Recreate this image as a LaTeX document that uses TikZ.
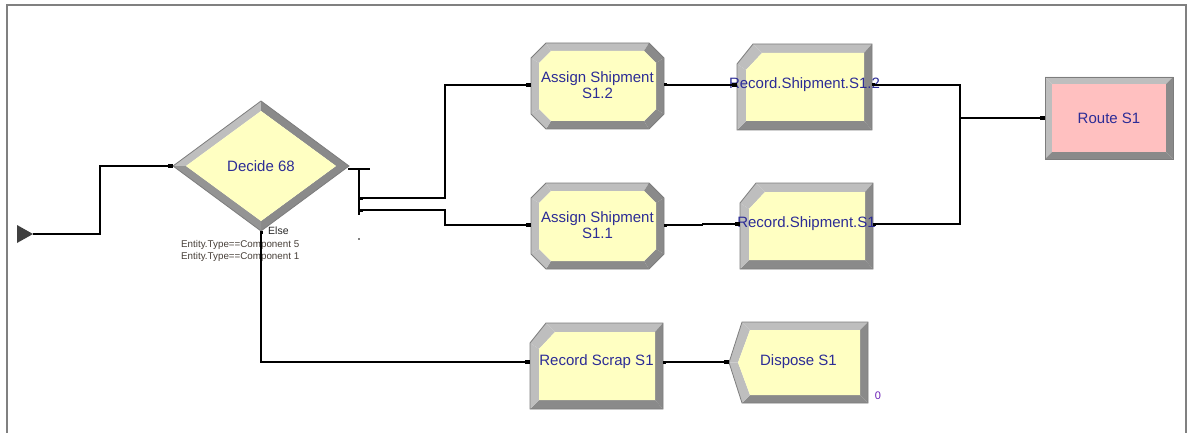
\documentclass[tikz,border=0pt]{standalone}
\usepackage{fontspec}
\setmainfont{Liberation Sans}
\usetikzlibrary{arrows.meta,shapes.geometric}
\definecolor{bevL}{RGB}{190,190,190}
\definecolor{bevD}{RGB}{138,138,138}
\definecolor{outl}{RGB}{125,125,125}
\definecolor{modY}{RGB}{255,255,194}
\definecolor{modP}{RGB}{255,192,192}
\definecolor{navy}{RGB}{44,44,150}
\definecolor{lblc}{RGB}{70,62,55}
\definecolor{framec}{RGB}{128,128,128}
\newcommand\trap[5]{\fill[#5] (#1)--(#2)--(#3)--(#4)--cycle;}
% octagon module (Assign)
\newcommand\octmod[4]{%
 \coordinate (o1) at (#1+15,#2); \coordinate (o2) at (#3-15,#2);
 \coordinate (o3) at (#3,#2+15); \coordinate (o4) at (#3,#4-15);
 \coordinate (o5) at (#3-15,#4); \coordinate (o6) at (#1+15,#4);
 \coordinate (o7) at (#1,#4-15); \coordinate (o8) at (#1,#2+15);
 \coordinate (i1) at (#1+20,#2+8); \coordinate (i2) at (#3-20,#2+8);
 \coordinate (i3) at (#3-8,#2+20); \coordinate (i4) at (#3-8,#4-20);
 \coordinate (i5) at (#3-20,#4-8); \coordinate (i6) at (#1+20,#4-8);
 \coordinate (i7) at (#1+8,#4-20); \coordinate (i8) at (#1+8,#2+20);
 \trap{o8}{o1}{i1}{i8}{bevL}\trap{o1}{o2}{i2}{i1}{bevL}
 \trap{o2}{o3}{i3}{i2}{bevD}\trap{o3}{o4}{i4}{i3}{bevD}
 \trap{o4}{o5}{i5}{i4}{bevD}\trap{o5}{o6}{i6}{i5}{bevD}
 \trap{o6}{o7}{i7}{i6}{bevL}\trap{o7}{o8}{i8}{i7}{bevL}
 \fill[modY] (i1)--(i2)--(i3)--(i4)--(i5)--(i6)--(i7)--(i8)--cycle;
 \draw[outl,line width=0.8pt] (o1)--(o2)--(o3)--(o4)--(o5)--(o6)--(o7)--(o8)--cycle;}
% chamfered module (Record)
\newcommand\recmod[4]{%
 \coordinate (o1) at (#1+16,#2); \coordinate (o2) at (#3,#2);
 \coordinate (o3) at (#3,#4); \coordinate (o4) at (#1,#4);
 \coordinate (o5) at (#1,#2+20);
 \coordinate (i1) at (#1+25,#2+9); \coordinate (i2) at (#3-8,#2+9);
 \coordinate (i3) at (#3-8,#4-9); \coordinate (i4) at (#1+9,#4-9);
 \coordinate (i5) at (#1+9,#2+26);
 \trap{o5}{o1}{i1}{i5}{bevL}\trap{o1}{o2}{i2}{i1}{bevL}
 \trap{o2}{o3}{i3}{i2}{bevD}\trap{o3}{o4}{i4}{i3}{bevD}
 \trap{o4}{o5}{i5}{i4}{bevL}
 \fill[modY] (i1)--(i2)--(i3)--(i4)--(i5)--cycle;
 \draw[outl,line width=0.8pt] (o1)--(o2)--(o3)--(o4)--(o5)--cycle;}
% dispose module
\newcommand\dismod[4]{%
 \coordinate (o1) at (#1+13,#2); \coordinate (o2) at (#3,#2);
 \coordinate (o3) at (#3,#4); \coordinate (o4) at (#1+13,#4);
 \coordinate (o5) at (#1,{(#2+#4)/2});
 \coordinate (i1) at (#1+21,#2+8); \coordinate (i2) at (#3-8,#2+8);
 \coordinate (i3) at (#3-8,#4-8); \coordinate (i4) at (#1+21,#4-8);
 \coordinate (i5) at (#1+9,{(#2+#4)/2});
 \trap{o5}{o1}{i1}{i5}{bevL}\trap{o1}{o2}{i2}{i1}{bevL}
 \trap{o2}{o3}{i3}{i2}{bevD}\trap{o3}{o4}{i4}{i3}{bevD}
 \trap{o4}{o5}{i5}{i4}{bevL}
 \fill[modY] (i1)--(i2)--(i3)--(i4)--(i5)--cycle;
 \draw[outl,line width=0.8pt] (o1)--(o2)--(o3)--(o4)--(o5)--cycle;}
% rectangle module
\newcommand\rectmod[5]{%
 \coordinate (o1) at (#1,#2); \coordinate (o2) at (#3,#2);
 \coordinate (o3) at (#3,#4); \coordinate (o4) at (#1,#4);
 \coordinate (i1) at (#1+7,#2+7); \coordinate (i2) at (#3-7,#2+7);
 \coordinate (i3) at (#3-7,#4-7); \coordinate (i4) at (#1+7,#4-7);
 \trap{o4}{o1}{i1}{i4}{bevL}\trap{o1}{o2}{i2}{i1}{bevL}
 \trap{o2}{o3}{i3}{i2}{bevD}\trap{o3}{o4}{i4}{i3}{bevD}
 \fill[#5] (i1)--(i2)--(i3)--(i4)--cycle;
 \draw[outl,line width=0.8pt] (o1)--(o2)--(o3)--(o4)--cycle;}
\tikzset{
 mod/.style={inner sep=0pt, align=center, text=navy, font=\fontsize{15}{16}\selectfont},
 small/.style={inner sep=0pt, anchor=west, text=lblc, font=\fontsize{9.8}{11}\selectfont},
 wire/.style={draw=black, line width=1.1pt},
 conn/.style={wire, {Square[length=3pt,width=3pt]}-{Square[length=4.5pt,width=4.5pt]}},
}
\begin{document}
\begin{tikzpicture}[x=1pt,y=-1pt]
\useasboundingbox (0,0) rectangle (1193,433);
% frame
\draw[framec, line width=2pt] (7,433) -- (7,5) -- (1186,5) -- (1186,433);
% create
\fill[black!75] (17,225) -- (33,234) -- (17,243) -- cycle;
\coordinate (cr) at (33,234);
% decide diamond
\coordinate (dL) at (173,166); \coordinate (dT) at (261,101);
\coordinate (dR) at (349,166); \coordinate (dB) at (261,231);
\coordinate (eL) at (186,166); \coordinate (eT) at (261,111);
\coordinate (eR) at (336,166); \coordinate (eB) at (261,221);
\trap{dL}{dT}{eT}{eL}{bevL}
\trap{dT}{dR}{eR}{eT}{bevD}
\trap{dR}{dB}{eB}{eR}{bevD}
\trap{dB}{dL}{eL}{eB}{bevD!80!bevL}
\fill[modY] (eL)--(eT)--(eR)--(eB)--cycle;
\draw[outl,line width=0.8pt] (dL)--(dT)--(dR)--(dB)--cycle;
% modules
\octmod{531}{43}{664}{129}
\octmod{531}{183}{664}{269}
\recmod{737}{44}{872}{130}
\recmod{740}{183}{873}{269}
\recmod{530}{323}{663}{409}
\dismod{729}{322}{868}{403}
\rectmod{1045}{77}{1173}{159}{modP}
% nodes
\node[mod, diamond, minimum width=176pt, minimum height=130pt] (dec) at (261,166) {Decide 68};
\node[mod, minimum width=133pt, minimum height=86pt] (as12) at (597.5,85) {Assign Shipment\\S1.2};
\node[mod, minimum width=133pt, minimum height=86pt] (as11) at (597.5,225) {Assign Shipment\\S1.1};
\node[mod, minimum width=135pt, minimum height=86pt] (rs12) at (804.5,85) {\makebox[0pt]{Record.Shipment.S1.2}};
\node[mod, minimum width=133pt, minimum height=86pt] (rs1) at (806.5,224) {\makebox[0pt]{Record.Shipment.S1}};
\node[mod, minimum width=133pt, minimum height=86pt] (scrap) at (596.5,362) {\makebox[0pt]{Record Scrap S1}};
\node[mod, minimum width=139pt, minimum height=81pt] (disp) at (798.5,362) {Dispose S1};
\node[mod, minimum width=128pt, minimum height=82pt] (route) at (1109,118) {Route S1};
\node[small, text=black!85, font=\fontsize{10.5}{11}\selectfont] (else) at (268,231) {Else};
\node[small] (c5) at (181,245) {Entity.Type==Component 5};
\node[small] (c1) at (181,257) {Entity.Type==Component 1};
\node[inner sep=0pt, text=navy!70!magenta, font=\fontsize{11}{12}\selectfont] (cnt) at (878,396) {0};
% decide exit stubs
\coordinate (s1) at (348,169); \coordinate (s2) at (370,169);
\coordinate (v1) at (359,169); \coordinate (v2) at (359,215);
\coordinate (d1) at (360,198); \coordinate (d2) at (360,210);
\draw[wire] (s1) -- (s2);
\draw[wire] (v1) -- (v2);
\fill (359,239) circle (0.9);
% connectors
\draw[conn, {Square[length=0.1pt,width=0.1pt]}-{Square[length=4.5pt,width=4.5pt]}] (cr) -- ++(67,0) |- (dec.west);
\draw[conn] (d1) -- ++(85,0) |- (as12.west);
\draw[conn] (d2) -- ++(85,0) |- (as11.west);
\draw[conn] (dec.south) |- (scrap.west);
\draw[conn] (as12.east) -- (as12.east -| rs12.west);
\draw[conn] (as11.east) -- ++(38,0) |- (rs1.west);
\coordinate (jn) at (960,118);
\draw[conn] (rs12.east) -| (jn) -- (route.west);
\draw[conn, {Square[length=3pt,width=3pt]}-] (rs1.east) -| (jn);
\draw[conn] (scrap.east) -- (disp.west);
\end{tikzpicture}
\end{document}
